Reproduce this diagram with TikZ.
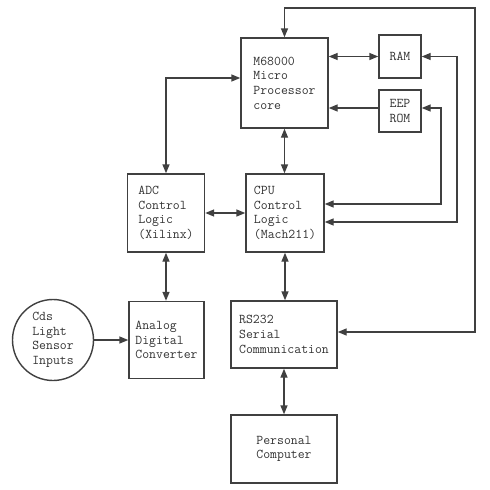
\documentclass[tikz,border=0pt]{standalone}
\usepackage{fontspec}
\usetikzlibrary{arrows.meta}
\begin{document}
\begin{tikzpicture}[x=1pt,y=-1pt,
  every node/.style={font=\ttfamily\fontsize{13.4}{14.6}\selectfont, text=black!80},
  blk/.style={draw=black!75, line width=1.4pt, align=left, inner sep=0pt},
  smallblk/.style={draw=black!75, line width=1.4pt, align=center, inner sep=0pt},
  conn/.style={draw=black!75, line width=1.4pt, -{Triangle[length=9pt,width=7pt]}},
  bconn/.style={draw=black!75, line width=1.4pt, {Triangle[length=9pt,width=7pt]}-{Triangle[length=9pt,width=7pt]}}
]
\useasboundingbox[fill=white] (0,0) rectangle (490,490);

\node[blk, minimum width=87pt, minimum height=90pt] (mp) at (284.5,83) {M68000\\Micro\\Processor\\core};
\node[smallblk, minimum width=42pt, minimum height=43pt] (ram) at (400,56.5) {RAM};
\node[smallblk, minimum width=42pt, minimum height=42pt] (eep) at (400,111) {EEP\\ROM};
\node[blk, minimum width=78pt, minimum height=78pt] (cpu) at (285,213) {CPU\\Control\\Logic\\(Mach211)};
\node[blk, minimum width=77pt, minimum height=78pt] (adc) at (166,213) {ADC\\Control\\Logic\\(Xilinx)};
\node[blk, minimum width=75pt, minimum height=77pt] (ana) at (166.5,340) {Analog\\Digital\\Converter};
\node[draw=black!75, line width=1.4pt, circle, minimum size=81pt, inner sep=0pt, align=left] (cds) at (53,340) {Cds\\Light\\Sensor\\Inputs};
\node[blk, minimum width=106pt, minimum height=67pt] (rs) at (284,334.5) {RS232\\Serial\\Communication};
\node[smallblk, minimum width=106pt, minimum height=68pt] (pc) at (284,449) {Personal\\Computer};

\draw[bconn] (mp.east |- ram.west) -- (ram.west);
\draw[conn] (eep.west |- 0,108) -- (mp.east |- 0,108);
\draw[bconn] (ram.east) -- (457,56.5) -- (457,222) -- (cpu.east |- 0,222);
\draw[bconn] (eep.east |- 0,108) -- (441,108) -- (441,204) -- (cpu.east |- 0,204);
\draw[bconn] (mp.south) -- (mp.south |- cpu.north);
\draw[bconn] (mp.north) -- (mp.north |- 0,8) -- (475,8) -- (475,332) -- (rs.east |- 0,332);
\draw[bconn] (adc.north) -- (adc.north |- 0,78) -- (mp.west |- 0,78);
\draw[bconn] (adc.east) -- (cpu.west);
\draw[bconn] (adc.south) -- (adc.south |- ana.north);
\draw[conn] (cds.east) -- (ana.west |- cds.east);
\draw[bconn] (cpu.south) -- (cpu.south |- rs.north);
\draw[bconn] (rs.south) -- (rs.south |- pc.north);
\end{tikzpicture}
\end{document}
